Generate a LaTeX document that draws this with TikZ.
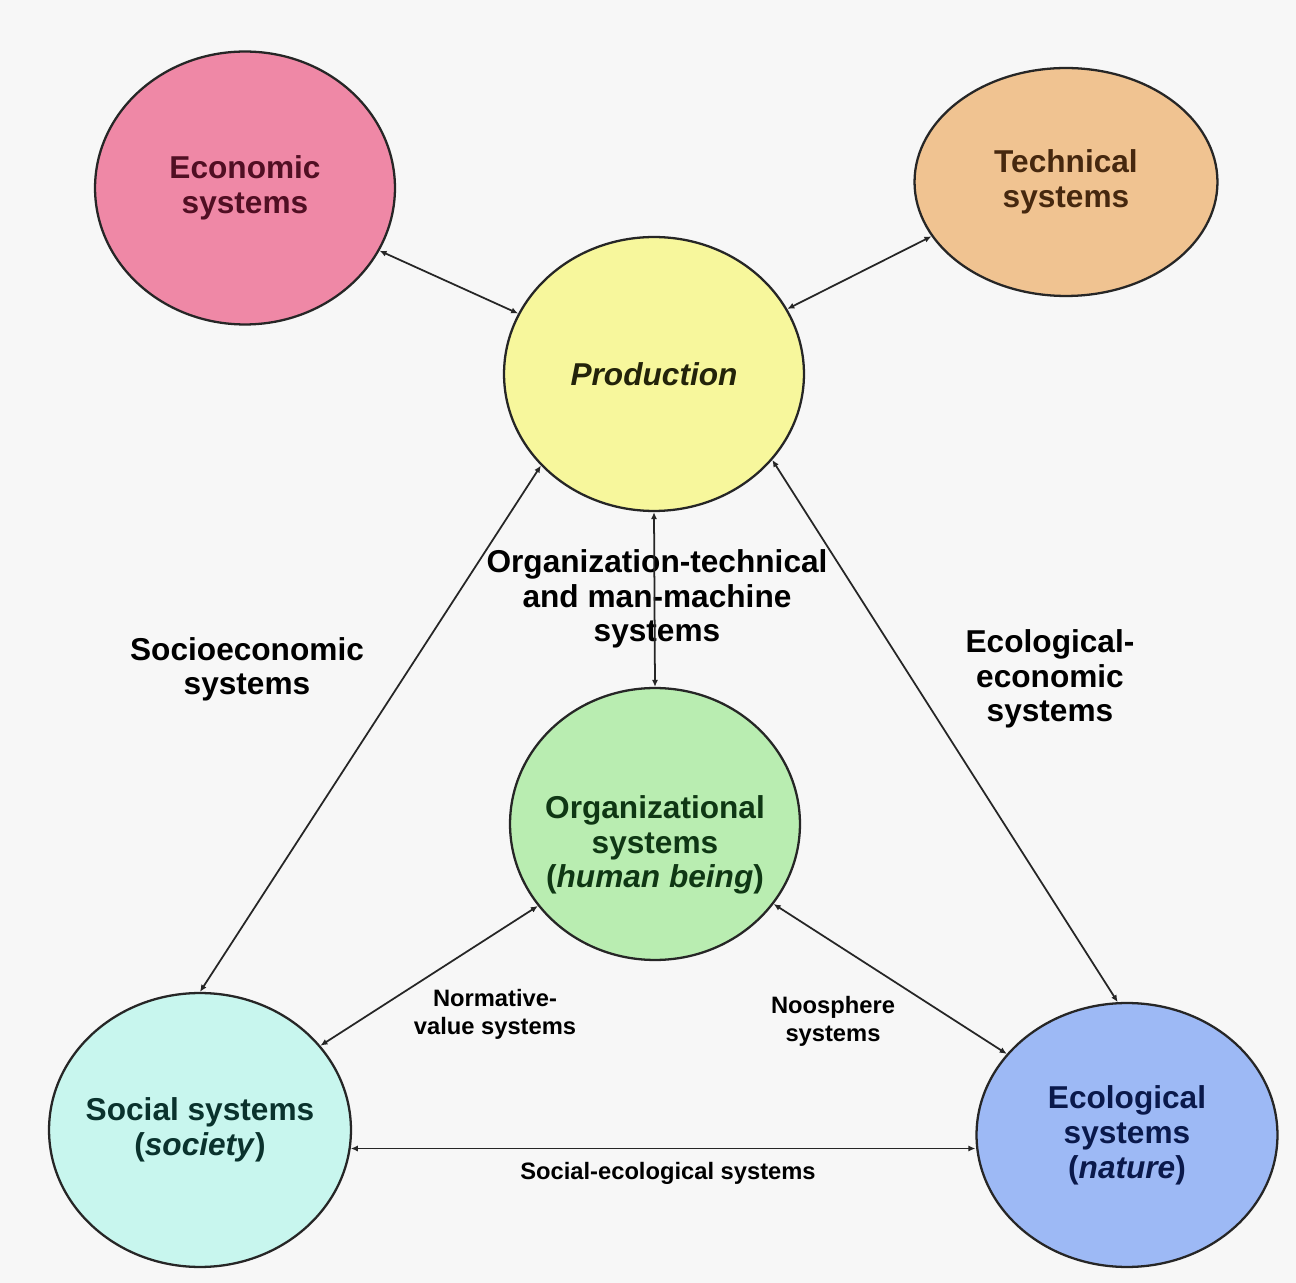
\documentclass[tikz,border=0pt]{standalone}
\usepackage{fontspec}
\setmainfont{Liberation Sans}
\usetikzlibrary{shapes.geometric,arrows.meta}
\definecolor{bgcol}{RGB}{247,247,247}
\definecolor{econfill}{RGB}{239,136,166}
\definecolor{techfill}{RGB}{240,195,145}
\definecolor{prodfill}{RGB}{247,247,156}
\definecolor{orgfill}{RGB}{185,237,177}
\definecolor{socfill}{RGB}{200,246,238}
\definecolor{ecofill}{RGB}{157,185,245}
\definecolor{econtext}{RGB}{80,15,35}
\definecolor{techtext}{RGB}{70,40,15}
\definecolor{prodtext}{RGB}{35,35,10}
\definecolor{orgtext}{RGB}{15,55,20}
\definecolor{soctext}{RGB}{10,50,45}
\definecolor{ecotext}{RGB}{10,25,75}

\begin{document}
\begin{tikzpicture}[
		x=0.02cm, y=-0.02cm,
		>={Latex[length=4pt,width=3.5pt]},
		sys/.style = {
			ellipse, draw=black!85, line width=1.3pt,
			minimum width=6cm, minimum height=5.46cm,
			align=center, inner sep=-1.5cm,
			font=\fontsize{18}{20}\selectfont\bfseries},
		lbl/.style = {align=center, font=\fontsize{18}{19.5}\selectfont\bfseries},
		sublbl/.style = {align=center, font=\fontsize{13.5}{15.8}\selectfont\bfseries},
		link/.style = {<->, line width=1pt, draw=black!85}]

		\fill[bgcol] (0,0) rectangle (1296,1283);
		\useasboundingbox (0,0) rectangle (1296,1283);

		\node[sys, fill=econfill, text=econtext] (econ) at (245,188) {Economic\\systems};
		\node[sys, fill=techfill, text=techtext, minimum width=6.06cm, minimum height=4.56cm] (tech) at (1066,182) {Technical\\systems};
		\node[sys, fill=prodfill, text=prodtext, minimum height=5.48cm] (prod) at (654,374) {\itshape Production};
		\node[sys, fill=orgfill, minimum width=5.8cm, minimum height=5.44cm,
			label={[lbl, text=orgtext, yshift=-0.42cm]center:Organizational\\systems\\(\textit{human being})}] (org) at (655,824) {};
		\node[sys, fill=socfill, text=soctext, minimum width=6.04cm, minimum height=5.48cm] (soc) at (200,1130) {Social systems\\(\textit{society})};
		\node[sys, fill=ecofill, text=ecotext, minimum width=6.02cm, minimum height=5.28cm] (eco) at (1127,1135) {Ecological\\systems\\(\textit{nature})};

		\node[lbl] (orgtech) at (657,599) {Organization-technical\\and man-machine\\systems};
		\node[lbl] (socecon) at (247,669) {Socioeconomic\\systems};
		\node[lbl] (ecoecon) at (1050,679) {Ecological-\\economic\\systems};
		\node[sublbl] (normval) at (495,1014) {Normative-\\value systems};
		\node[sublbl] (noos) at (833,1021) {Noosphere\\systems};
		\node[sublbl] (socecol) at (668,1173) {Social-ecological systems};

		\draw[link] (econ.-25) -- (prod.156);
		\draw[link] (tech.202) -- (prod.26);
		\draw[link] (prod.south) -- (org.north);
		\draw[link] (soc.north) -- (prod.219);
		\draw[link] (eco.94) -- (prod.-36);
		\draw[link] (org.215) -- (soc.35);
		\draw[link] (org.-34) -- (eco.146);
		\draw[link] (soc.-7) -- (soc.-7 -| eco.west);
\end{tikzpicture}
\end{document}
